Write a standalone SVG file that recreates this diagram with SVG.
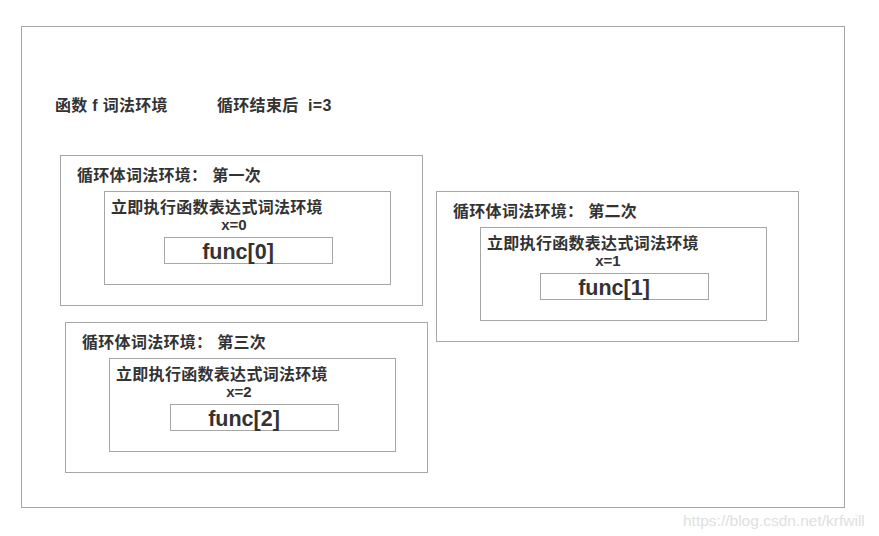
<svg xmlns="http://www.w3.org/2000/svg" width="879" height="536" viewBox="0 0 879 536">
<style>
.box{fill:#fff;stroke:#a6a6a6;stroke-width:1}
.t{font-family:"Liberation Sans","Noto Sans CJK SC",sans-serif;font-weight:bold;fill:#333;white-space:pre}
.h{font-size:16px;letter-spacing:0.3px}
.x{font-size:15px;text-anchor:middle}
.f{font-size:21.5px;text-anchor:middle}
.w{font-family:"Liberation Sans",sans-serif;font-size:15.5px;fill:#e0e0e0}
</style>
<rect width="879" height="536" fill="#fff"/>
<g id="outer">
<rect class="box" x="21.5" y="26.5" width="823" height="481"/>
<text class="t h" x="55" y="111">函数 f 词法环境</text>
<text class="t h" x="217" y="111">循环结束后  i=3</text>
</g>
<g id="loop1">
<rect class="box" x="60.5" y="155.5" width="362" height="150"/>
<text class="t h" x="77" y="181">循环体词法环境： 第一次</text>
<rect class="box" x="104.5" y="191.5" width="286" height="93"/>
<text class="t h" x="111" y="213">立即执行函数表达式词法环境</text>
<text class="t x" x="234" y="230">x=0</text>
<rect class="box" x="164.5" y="237.5" width="168" height="26"/>
<text class="t f" x="238" y="259">func[0]</text>
</g>
<g id="loop2">
<rect class="box" x="436.5" y="191.5" width="362" height="150"/>
<text class="t h" x="453" y="217">循环体词法环境： 第二次</text>
<rect class="box" x="480.5" y="227.5" width="286" height="93"/>
<text class="t h" x="487" y="249">立即执行函数表达式词法环境</text>
<text class="t x" x="608" y="266">x=1</text>
<rect class="box" x="540.5" y="273.5" width="168" height="26"/>
<text class="t f" x="614" y="295">func[1]</text>
</g>
<g id="loop3">
<rect class="box" x="65.5" y="322.5" width="362" height="150"/>
<text class="t h" x="82" y="348">循环体词法环境： 第三次</text>
<rect class="box" x="109.5" y="358.5" width="286" height="93"/>
<text class="t h" x="116" y="380">立即执行函数表达式词法环境</text>
<text class="t x" x="239" y="397">x=2</text>
<rect class="box" x="170.5" y="404.5" width="168" height="26"/>
<text class="t f" x="244" y="426">func[2]</text>
</g>
<g id="connectors"></g>
<text class="w" x="683" y="526">https://blog.csdn.net/krfwill</text>
</svg>
